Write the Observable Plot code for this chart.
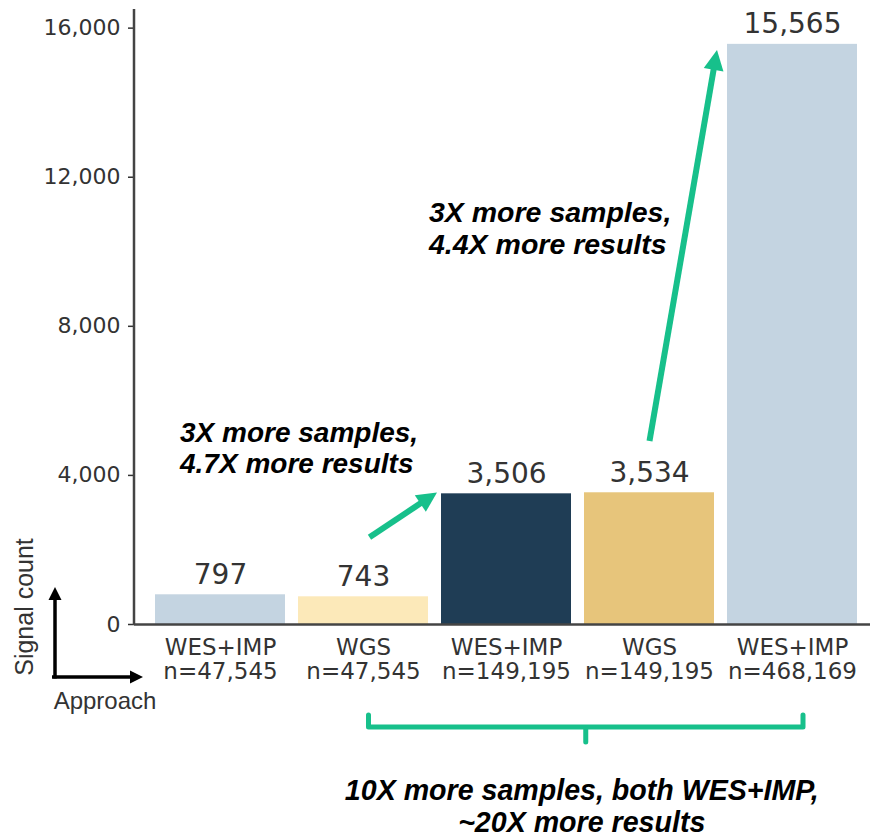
<!DOCTYPE html>
<html><head><meta charset="utf-8">
<script src="https://cdn.jsdelivr.net/npm/d3@7"></script>
<script src="https://cdn.jsdelivr.net/npm/@observablehq/plot@0.6"></script>
<style>body{margin:0;background:#fff} #chart{width:870px;height:839px}</style>
</head><body><div id="chart"></div>
<script>
// ---- data ----
const approaches = ["WES+IMP", "WGS", "WES+IMP", "WGS", "WES+IMP"];
const sampleSizes = ["n=47,545", "n=47,545", "n=149,195", "n=149,195", "n=468,169"];
const signalCounts = [797, 743, 3506, 3534, 15565];
const barColors = ["#c4d4e1", "#fce9b9", "#1f3d55", "#e7c57b", "#c4d4e1"];
const yTicks = [0, 4000, 8000, 12000, 16000];
const note1 = ["3X more samples,", "4.7X more results"];
const note2 = ["3X more samples,", "4.4X more results"];
const note3 = ["10X more samples, both WES+IMP,", "~20X more results"];
const yAxisTitle = "Signal count";
const xAxisTitle = "Approach";

const categories = approaches.map((a, i) => `${a}\n${sampleSizes[i]}`);
const data = categories.map((c, i) => ({category: c, value: signalCounts[i], color: barColors[i]}));
const fmt = d3.format(",d");

const marginLeft = 134;
const chart = Plot.plot({
  width: 870, height: 839,
  marginLeft, marginRight: 0, marginTop: 9, marginBottom: 215,
  style: {fontFamily: "'DejaVu Sans', sans-serif", background: "#fff", overflow: "visible"},
  x: {type: "band", domain: categories, paddingInner: 0.09, paddingOuter: 0.045, insetLeft: 14.5, insetRight: 6.5, label: null},
  y: {domain: [0, 16500], label: null},
  color: {type: "identity"},
  marks: [
    Plot.barY(data, {x: "category", y: "value", fill: "color"}),
    Plot.ruleY([0], {stroke: "#444", strokeWidth: 2.5}),
    Plot.axisY({ticks: yTicks, tickFormat: fmt, tickSize: 6, tickPadding: 8, fontSize: 22, color: "#333", strokeWidth: 1.5, label: null}),
    Plot.axisX({tickSize: 0, tickPadding: 13, fontSize: 23, lineHeight: 1.05, color: "#333", label: null}),
    Plot.text(data, {x: "category", y: "value", text: d => fmt(d.value), lineAnchor: "bottom", dy: -11, fontSize: 28, fill: "#333"})
  ]
});
document.getElementById("chart").appendChild(chart);

// ---- annotations, positioned through the chart's scales ----
const svg = d3.select(chart);
const xs = chart.scale("x"), ys = chart.scale("y");
const bw = xs.bandwidth;
const left = i => xs.apply(categories[i]);
const mid = i => xs.apply(categories[i]) + bw / 2;
const Y = v => ys.apply(v);
const y0 = Y(0);
const green = "#17c08b";
const g = svg.append("g");

// y axis line
g.append("line").attr("x1", marginLeft).attr("x2", marginLeft)
  .attr("y1", Y(16500)).attr("y2", y0 + 1).attr("stroke", "#444").attr("stroke-width", 2.5);

function arrow(x1, y1, x2, y2, color, sw, hl, hw) {
  const a = Math.atan2(y2 - y1, x2 - x1);
  const c = Math.cos(a), s = Math.sin(a);
  const bx = x2 - hl * c, by = y2 - hl * s;
  g.append("line").attr("x1", x1).attr("y1", y1).attr("x2", bx + c * 2).attr("y2", by + s * 2)
    .attr("stroke", color).attr("stroke-width", sw);
  g.append("polygon")
    .attr("points", `${x2},${y2} ${bx - hw * s},${by + hw * c} ${bx + hw * s},${by - hw * c}`)
    .attr("fill", color);
}

// green arrows
arrow(mid(1) + 6.5, Y(2330), left(2) - 4, Y(3530), green, 6, 20, 10);
arrow(mid(3) + 0.5, Y(4910), left(4) - 10, Y(15400), green, 6, 20, 10);

// bracket
const bl = mid(1) + 5.5, br = mid(4) + 11, bc = (bl + br) / 2, by = y0 + 103;
g.append("path")
  .attr("d", `M${bl},${by - 12} V${by} H${br} V${by - 12} M${bc},${by} V${by + 15}`)
  .attr("fill", "none").attr("stroke", green).attr("stroke-width", 5)
  .attr("stroke-linejoin", "round").attr("stroke-linecap", "round");

function note(lines, x, y, anchor, size, lh) {
  const t = g.append("text").attr("x", x).attr("y", y).attr("text-anchor", anchor)
    .attr("font-family", "'Liberation Sans', Arial, sans-serif").attr("font-weight", "bold")
    .attr("font-style", "italic").attr("font-size", size).attr("fill", "#000");
  lines.forEach((l, i) => t.append("tspan").attr("x", x).attr("dy", i ? lh : 0).text(l));
}
note(note1, left(0) + 25, Y(4880), "start", 28, 31);
note(note2, left(2) - 12, Y(10790), "start", 28.5, 32);
note(note3, bc - 4, y0 + 176, "middle", 28.6, 32);

// axis legend (Signal count / Approach)
const ax = 55, ay = y0 + 53;
arrow(ax, ay + 1.5, ax, y0 - 37, "#000", 3.5, 13, 6.5);
arrow(ax - 3, ay, marginLeft + 9, ay, "#000", 3.5, 13, 6.5);
g.append("text").attr("transform", `translate(24,${y0 - 17}) rotate(-90)`)
  .attr("text-anchor", "middle").attr("dominant-baseline", "central")
  .attr("font-family", "'Liberation Sans', Arial, sans-serif").attr("font-size", 25).attr("fill", "#333")
  .text(yAxisTitle);
g.append("text").attr("x", 105).attr("y", y0 + 76)
  .attr("text-anchor", "middle").attr("dominant-baseline", "central")
  .attr("font-family", "'Liberation Sans', Arial, sans-serif").attr("font-size", 24).attr("fill", "#333")
  .text(xAxisTitle);
</script>
</body></html>
